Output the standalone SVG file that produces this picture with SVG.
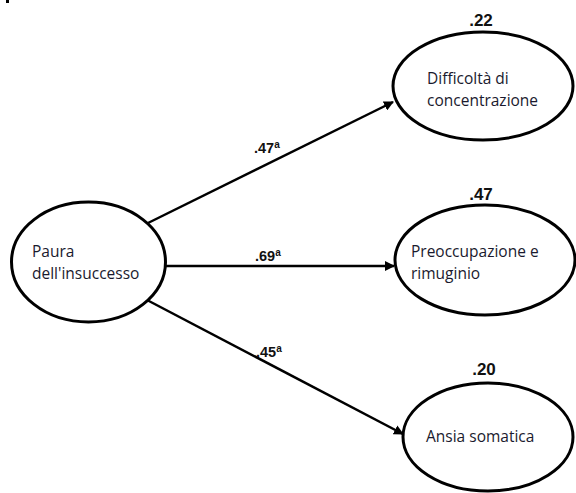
<svg xmlns="http://www.w3.org/2000/svg" width="576" height="493" viewBox="0 0 576 493">
<style>
.node{fill:#fff;stroke:#000;stroke-width:3}
.lbl{font-family:"Open Sans","Liberation Sans",sans-serif;font-size:15.5px;fill:#1a1a2e}
.coef{font-family:"Liberation Sans",Arial,sans-serif;font-size:14.5px;font-weight:bold;fill:#111}
.r2{font-family:"Liberation Sans",Arial,sans-serif;font-size:17px;font-weight:bold;fill:#111;text-anchor:middle}
.sup{font-size:10px}
.edge{stroke:#000;stroke-width:2.5;fill:none;marker-end:url(#ah)}
</style>
<defs>
<marker id="ah" viewBox="0 0 10 10" refX="9" refY="5" markerWidth="4" markerHeight="4" orient="auto" markerUnits="strokeWidth">
<path d="M0,0 L10,5 L0,10 z" fill="#000"/>
</marker>
</defs>
<rect width="576" height="493" fill="#fff"/>
<rect x="6" y="0" width="3" height="3" fill="#000"/>
<g id="connectors">
<line class="edge" x1="148" y1="223" x2="393" y2="102"/>
<line class="edge" x1="165" y1="266" x2="394" y2="266"/>
<line class="edge" x1="147" y1="300" x2="403" y2="434"/>
<text class="coef" x="254" y="153">.47<tspan class="sup" dy="-5">a</tspan></text>
<text class="coef" x="255" y="261">.69<tspan class="sup" dy="-5">a</tspan></text>
<text class="coef" x="256" y="357">.45<tspan class="sup" dy="-5">a</tspan></text>
</g>
<g id="paura">
<ellipse class="node" cx="88.5" cy="262" rx="77" ry="60"/>
<text class="lbl" x="32" y="257">Paura</text>
<text class="lbl" x="32" y="279">dell'insuccesso</text>
</g>
<g id="difficolta">
<ellipse class="node" cx="483" cy="86" rx="90" ry="54"/>
<text class="r2" x="481" y="26">.22</text>
<text class="lbl" x="427" y="84">Difficoltà di</text>
<text class="lbl" x="427" y="106">concentrazione</text>
</g>
<g id="preoccupazione">
<ellipse class="node" cx="485" cy="260" rx="90" ry="55"/>
<text class="r2" x="481" y="200">.47</text>
<text class="lbl" x="411" y="257">Preoccupazione e</text>
<text class="lbl" x="411" y="279">rimuginio</text>
</g>
<g id="ansia">
<ellipse class="node" cx="488" cy="437" rx="85" ry="54"/>
<text class="r2" x="484" y="375">.20</text>
<text class="lbl" x="426" y="442">Ansia somatica</text>
</g>
</svg>
